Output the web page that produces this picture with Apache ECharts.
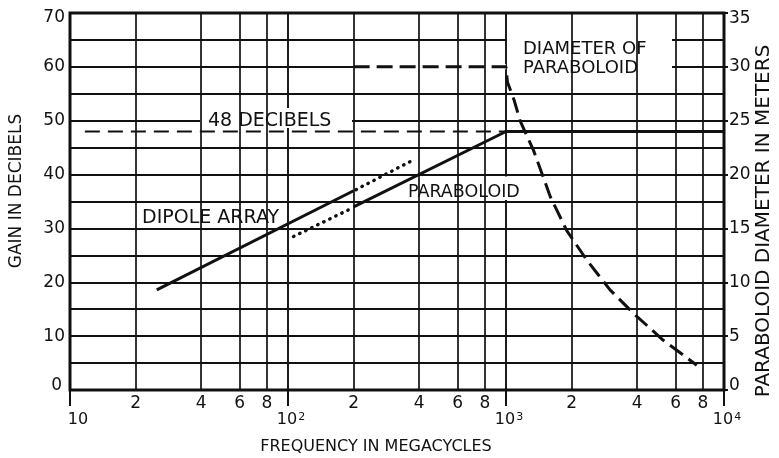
<!DOCTYPE html>
<html>
<head>
<meta charset="utf-8">
<script src="https://cdn.jsdelivr.net/npm/echarts@6/dist/echarts.min.js"></script>
<style>
  html, body { margin: 0; padding: 0; background: #fff; }
  #chart { width: 779px; height: 458px; }
</style>
</head>
<body>
<div id="chart"></div>
<script>
// Frequency axis (megacycles, log scale) and intermediate grid values
const freqMin = 10;
const freqMax = 10000;
const minorFreqs = [20, 40, 60, 80, 200, 400, 600, 800, 2000, 4000, 6000, 8000];
const minorLabels = ['2', '4', '6', '8', '2', '4', '6', '8', '2', '4', '6', '8'];

// Gain of the dipole array (dB)
const dipoleFreq = [25, 200];
const dipoleGain = [18.6, 37];
// Dotted continuation of the dipole curve
const dipoleExtFreq = [205, 363];
const dipoleExtGain = [37.2, 42.4];

// Gain of the paraboloid (dB), levelling off at 48 dB
const paraFreq = [200, 1000, 10000];
const paraGain = [34, 48, 48];
// Dotted continuation of the paraboloid curve
const paraExtFreq = [106, 195];
const paraExtGain = [28.5, 33.7];

// 48 dB reference level
const refFreq = [11.7, 1000];
const refGain = [48, 48];

// Paraboloid diameter (meters, right axis)
const diamFreq = [200, 1000, 1015, 1090, 1160, 1340, 1600, 1900, 2340, 3000, 3830, 5250, 7500];
const diamMeters = [30, 30, 28.6, 26.9, 25.0, 22.2, 17.9, 14.8, 12.1, 9.3, 7.15, 4.64, 2.3];

const pairs = (xs, ys) => xs.map((x, i) => [x, ys[i]]);

const FONT = 'DejaVu Sans';
const INK = '#111';

const chart = echarts.init(document.getElementById('chart'), null, { renderer: 'canvas' });

const option = {
  animation: false,
  backgroundColor: '#fff',
  grid: {
    left: 70, top: 13, right: 55, bottom: 68,
    show: true, borderColor: INK, borderWidth: 3, backgroundColor: '#fff'
  },
  xAxis: {
    type: 'log', logBase: 10, min: freqMin, max: freqMax,
    axisLine: { show: false },
    axisTick: { show: true, length: 16, lineStyle: { color: INK, width: 2 } },
    splitLine: { show: true, lineStyle: { color: INK, width: 1.9 } },
    minorSplitLine: { show: false },
    axisLabel: {
      margin: 22,
      color: INK,
      fontFamily: FONT,
      fontSize: 16,
      formatter: function (v) {
        const k = Math.round(Math.log10(v));
        if (k === 1) return '{p|10}';
        return '{b|10}{s|' + k + '}';
      },
      rich: {
        p: { fontFamily: FONT, fontSize: 16, color: INK, padding: [0, 0, 0, 16] },
        b: { fontFamily: FONT, fontSize: 16, color: INK, padding: [0, 0, 0, 6] },
        s: { fontFamily: FONT, fontSize: 11, color: INK, verticalAlign: 'top', padding: [0, 0, 0, 1] }
      }
    }
  },
  yAxis: [
    {
      type: 'value', min: 0, max: 70, interval: 5,
      axisLine: { show: false },
      axisTick: { show: false },
      splitLine: { show: true, lineStyle: { color: INK, width: 1.9 } },
      axisLabel: {
        margin: 5, color: INK, fontFamily: FONT, fontSize: 17,
        formatter: function (v) {
          if (v % 10 !== 0) return '';
          if (v === 70) return '{t|70}';
          if (v === 0) return '{z|0}';
          return String(v);
        },
        rich: {
          t: { fontFamily: FONT, fontSize: 17, color: INK, padding: [10, 0, 0, 0] },
          z: { fontFamily: FONT, fontSize: 17, color: INK, padding: [0, 3, 8, 0] }
        }
      }
    },
    {
      type: 'value', min: 0, max: 35, interval: 5, position: 'right',
      axisLine: { show: false },
      axisTick: { show: true, length: 4, lineStyle: { color: INK, width: 2 } },
      splitLine: { show: false },
      axisLabel: {
        margin: 5, color: INK, fontFamily: FONT, fontSize: 17,
        formatter: function (v) {
          if (v === 35) return '{t|35}';
          if (v === 0) return '{z|0}';
          return String(v);
        },
        rich: {
          t: { fontFamily: FONT, fontSize: 17, color: INK, padding: [12, 0, 0, 0] },
          z: { fontFamily: FONT, fontSize: 17, color: INK, padding: [0, 0, 8, 0] }
        }
      }
    }
  ],
  series: [
    {
      // intermediate frequency grid lines with their mantissa labels
      name: 'grid', type: 'line', data: [], z: 0,
      markLine: {
        silent: true, symbol: 'none', animation: false,
        lineStyle: { color: INK, width: 1.7, type: 'solid' },
        label: {
          show: true, position: 'start', distance: 5,
          color: INK, fontFamily: FONT, fontSize: 17,
          formatter: function (p) { return minorLabels[p.dataIndex]; }
        },
        emphasis: { disabled: true },
        data: minorFreqs.map(f => ({ xAxis: f }))
      }
    },
    {
      name: 'diamBase', type: 'line', yAxisIndex: 1, z: 2, symbol: 'none',
      lineStyle: { color: '#fff', width: 5 },
      data: pairs(diamFreq, diamMeters).filter(p => p[1] === 30)
    },
    {
      name: 'ref48', type: 'line', z: 3, symbol: 'none',
      lineStyle: { color: INK, width: 1.8, type: [15, 8] },
      data: pairs(refFreq, refGain)
    },
    {
      name: 'dipole', type: 'line', z: 4, symbol: 'none',
      lineStyle: { color: INK, width: 3 },
      data: pairs(dipoleFreq, dipoleGain)
    },
    {
      name: 'dipoleExt', type: 'line', z: 4, symbol: 'none',
      lineStyle: { color: INK, width: 3.4, type: [0.5, 6.2], cap: 'round' },
      data: pairs(dipoleExtFreq, dipoleExtGain)
    },
    {
      name: 'paraboloid', type: 'line', z: 4, symbol: 'none',
      lineStyle: { color: INK, width: 3 },
      data: pairs(paraFreq, paraGain)
    },
    {
      name: 'paraExt', type: 'line', z: 4, symbol: 'none',
      lineStyle: { color: INK, width: 3.4, type: [0.5, 6.2], cap: 'round' },
      data: pairs(paraExtFreq, paraExtGain)
    },
    {
      name: 'diameter', type: 'line', yAxisIndex: 1, z: 4, symbol: 'none',
      lineStyle: { color: INK, width: 3, type: [16, 7] },
      data: pairs(diamFreq, diamMeters)
    }
  ],
  graphic: [
    // white panels behind the annotations
    { type: 'rect', z: 1, shape: { x: 200, y: 108, width: 152, height: 20 }, style: { fill: '#fff' } },
    { type: 'rect', z: 1, shape: { x: 135, y: 203, width: 151, height: 23.5 }, style: { fill: '#fff' } },
    { type: 'rect', z: 1, shape: { x: 400, y: 176.5, width: 135, height: 23.5 }, style: { fill: '#fff' } },
    { type: 'rect', z: 1, shape: { x: 507, y: 15, width: 165, height: 77 }, style: { fill: '#fff' } },
    // annotations
    { type: 'text', z: 5, x: 208, y: 121.5,
      style: { text: '48 DECIBELS', font: '19px "DejaVu Sans"', fill: INK, textVerticalAlign: 'middle' } },
    { type: 'text', z: 5, x: 142, y: 218.5,
      style: { text: 'DIPOLE ARRAY', font: '19px "DejaVu Sans"', fill: INK, textVerticalAlign: 'middle' } },
    { type: 'text', z: 5, x: 408, y: 192.5,
      style: { text: 'PARABOLOID', font: '17.5px "DejaVu Sans"', fill: INK, textVerticalAlign: 'middle' } },
    { type: 'text', z: 5, x: 523, y: 59,
      style: { text: 'DIAMETER OF\nPARABOLOID', font: '18px "DejaVu Sans"', lineHeight: 19, fill: INK, textVerticalAlign: 'middle' } },
    // axis titles
    { type: 'text', z: 5, x: 17, y: 191, rotation: Math.PI / 2,
      style: { text: 'GAIN IN DECIBELS', font: '17px "DejaVu Sans"', fill: INK, textAlign: 'center', textVerticalAlign: 'middle' } },
    { type: 'text', z: 5, x: 764, y: 221, rotation: Math.PI / 2,
      style: { text: 'PARABOLOID DIAMETER IN METERS', font: '20px "DejaVu Sans"', fill: INK, textAlign: 'center', textVerticalAlign: 'middle' } },
    { type: 'text', z: 5, x: 376, y: 447,
      style: { text: 'FREQUENCY IN MEGACYCLES', font: '16px "DejaVu Sans"', fill: INK, textAlign: 'center', textVerticalAlign: 'middle' } }
  ]
};

chart.setOption(option);
</script>
</body>
</html>
